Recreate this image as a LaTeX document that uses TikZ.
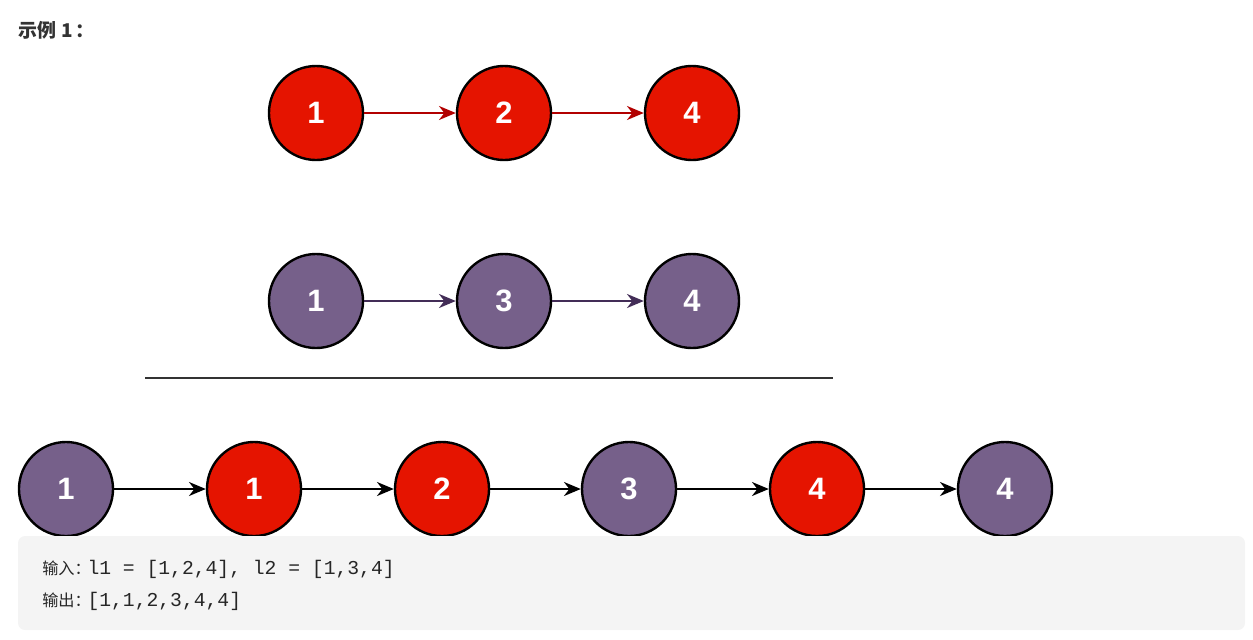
\documentclass[tikz,border=0pt]{standalone}
\usepackage{fontspec}
\setmainfont{Liberation Sans}
\setmonofont{Liberation Mono}
\newfontfamily\cjk{Noto Sans CJK SC}
\usetikzlibrary{arrows.meta}

\definecolor{redfill}{HTML}{E51400}
\definecolor{redline}{HTML}{B20000}
\definecolor{purplefill}{HTML}{76608A}
\definecolor{purpleline}{HTML}{432D57}
\definecolor{boxgray}{HTML}{F4F4F4}

\tikzset{
  listnode/.style={circle, draw=black, line width=1.7pt, minimum size=2.35cm,
    inner sep=0pt, text=white, font=\fontsize{22}{26}\selectfont\bfseries},
  rednode/.style={listnode, fill=redfill},
  purplenode/.style={listnode, fill=purplefill},
  link/.style={line width=1.3pt, -{Stealth[length=12pt,width=10pt]}}
}

\begin{document}
\begin{tikzpicture}[x=0.025cm, y=-0.025cm]
  \useasboundingbox (0,0) rectangle (1253,639);
  % titel
  \node[anchor=west, inner sep=0pt, text=black!80, font=\cjk\fontsize{13.5}{16}\selectfont\bfseries] (title) at (18,30) {示例\kern0.3em 1\kern0.1em：};
  % l1
  \node[rednode] (a1) at (316,113) {1};
  \node[rednode] (a2) at (504,113) {2};
  \node[rednode] (a3) at (692,113) {4};
  \draw[link, redline] (a1) -- (a2);
  \draw[link, redline] (a2) -- (a3);
  % l2
  \node[purplenode] (b1) at (316,301) {1};
  \node[purplenode] (b2) at (504,301) {3};
  \node[purplenode] (b3) at (692,301) {4};
  \draw[link, purpleline] (b1) -- (b2);
  \draw[link, purpleline] (b2) -- (b3);
  % scheidingslijn
  \draw[line width=2pt, black!80] (145,378) -- (833,378);
  % resultaat
  \node[purplenode] (c1) at (66,489) {1};
  \node[rednode]    (c2) at (254,489) {1};
  \node[rednode]    (c3) at (442,489) {2};
  \node[purplenode] (c4) at (629,489) {3};
  \node[rednode]    (c5) at (817,489) {4};
  \node[purplenode] (c6) at (1005,489) {4};
  \foreach \i/\j in {c1/c2, c2/c3, c3/c4, c4/c5, c5/c6}
    \draw[link, black] (\i) -- (\j);
  % voorbeeld
  \fill[boxgray, rounded corners=5pt] (18,536) rectangle (1245,630);
  \node[anchor=west, inner sep=0pt, text=black!85] (input) at (42,569)
    {{\cjk\fontsize{11.5}{14}\selectfont 输入：\kern-0.2em}\ttfamily\fontsize{14}{17}\selectfont l1 = [1,2,4], l2 = [1,3,4]};
  \node[anchor=west, inner sep=0pt, text=black!85] (output) at (42,601)
    {{\cjk\fontsize{11.5}{14}\selectfont 输出：\kern-0.2em}\ttfamily\fontsize{14}{17}\selectfont [1,1,2,3,4,4]};
\end{tikzpicture}
\end{document}
